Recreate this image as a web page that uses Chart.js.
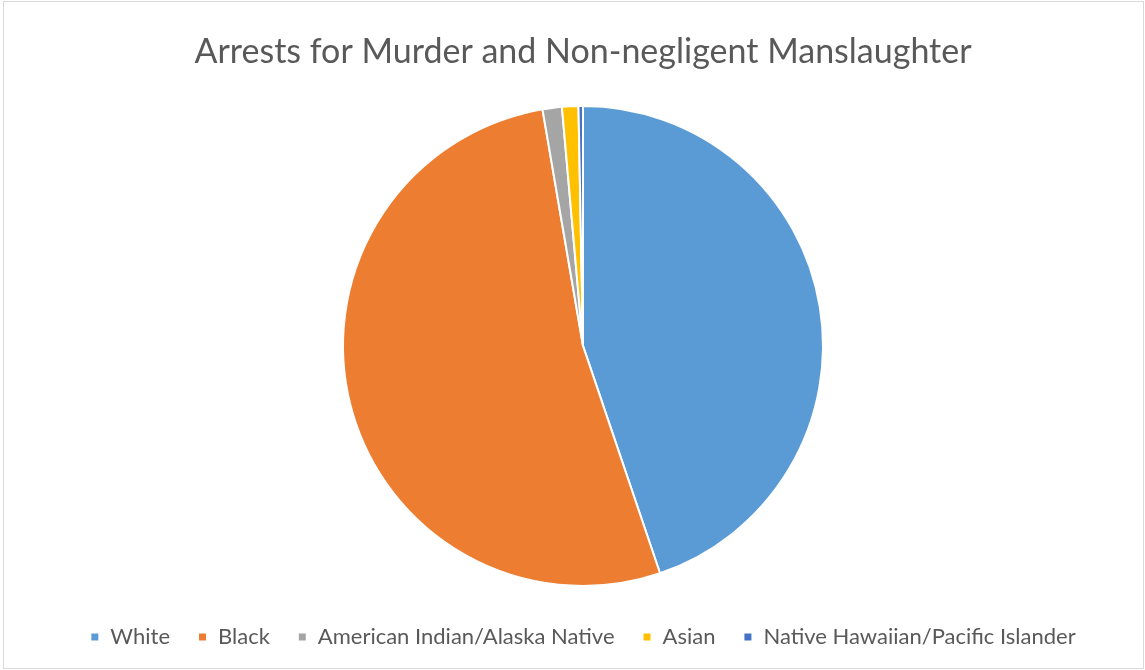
<!DOCTYPE html>
<html>
<head>
<meta charset="utf-8">
<script src="https://cdn.jsdelivr.net/npm/chart.js@4/dist/chart.umd.min.js"></script>
<style>
  html, body { margin: 0; padding: 0; background: #fff; }
  #frame { position: absolute; left: 3px; top: 1px; width: 1139px; height: 666px; border: 1px solid #d9d9d9; }
  #wrap { position: absolute; left: 0; top: 0; width: 1145px; height: 670px; }
</style>
</head>
<body>
<div id="frame"></div>
<div id="wrap"><canvas id="arrests-by-race"></canvas></div>
<script>
// share of arrests, percent
var races = ['White', 'Black', 'American Indian/Alaska Native', 'Asian', 'Native Hawaiian/Pacific Islander'];
var shares = [44.8, 52.5, 1.3, 1.1, 0.3];
var colours = ['#5b9bd5', '#ed7d31', '#a5a5a5', '#ffc000', '#4472c4'];

var chartTitle = 'Arrests for Murder and Non-negligent Manslaughter';
var font = "Lato, 'Open Sans', sans-serif";

var ctx = document.getElementById('arrests-by-race');
new Chart(ctx, {
    type: 'pie',
    data: {
        labels: races,
        datasets: [{
            data: shares,
            backgroundColor: colours,
            borderColor: '#ffffff',
            borderWidth: 2,
            radius: 240
        }]
    },
    options: {
        responsive: true,
        maintainAspectRatio: false,
        animation: false,
        layout: { padding: { left: 21, top: 0, bottom: 12 } },
        plugins: {
            title: {
                display: true,
                text: chartTitle,
                color: '#595959',
                font: { family: font, size: 34, weight: 'normal' },
                padding: { top: 32, bottom: 21 }
            },
            legend: {
                position: 'bottom',
                labels: {
                    color: '#595959',
                    font: { family: font, size: 22 },
                    boxWidth: 9,
                    boxHeight: 9,
                    padding: 28
                }
            },
            tooltip: { enabled: false }
        }
    }
});
</script>
</body>
</html>
